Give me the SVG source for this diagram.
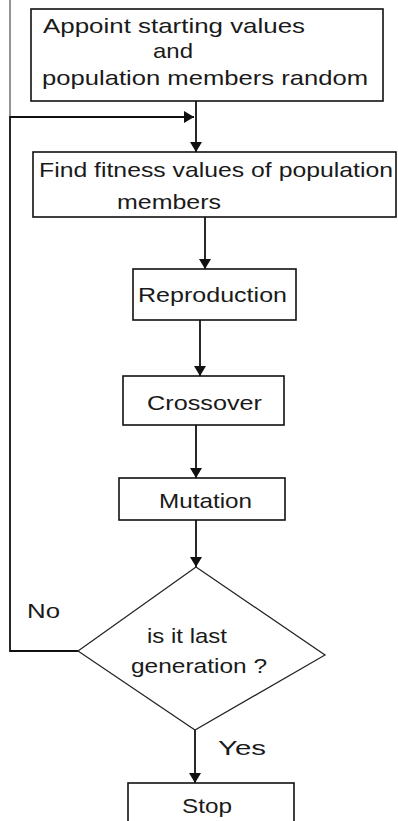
<svg xmlns="http://www.w3.org/2000/svg" width="398" height="821" viewBox="0 0 398 821">
<style>
.box{fill:#fff;stroke:#111;stroke-width:1.6}
.dia{fill:#fff;stroke:#222;stroke-width:1.2}
.t{font-family:"Liberation Sans",Arial,sans-serif;font-size:21px;fill:#1a1a1a}
.c{fill:none;stroke:#111;stroke-width:1.8}
</style>
<defs>
<marker id="ah" viewBox="0 0 10 12" refX="10" refY="6" markerWidth="10" markerHeight="12" markerUnits="userSpaceOnUse" orient="auto">
<path d="M0,0 L10,6 L0,12 Z" fill="#111"/>
</marker>
</defs>
<g id="connectors">
<line x1="10" y1="0" x2="10" y2="117" stroke="#888" stroke-width="1.8"/>
<path class="c" d="M78,651 L10,651 L10,117 L194,117" marker-end="url(#ah)"/>
<line class="c" x1="196" y1="101" x2="196" y2="152" marker-end="url(#ah)"/>
<line class="c" x1="205" y1="217" x2="205" y2="269" marker-end="url(#ah)"/>
<line class="c" x1="200" y1="320" x2="200" y2="376" marker-end="url(#ah)"/>
<line class="c" x1="196" y1="425" x2="196" y2="478" marker-end="url(#ah)"/>
<line class="c" x1="196" y1="520" x2="196" y2="567" marker-end="url(#ah)"/>
<line class="c" x1="195" y1="730" x2="195" y2="783" marker-end="url(#ah)"/>
<text class="t" x="27" y="618" textLength="33" lengthAdjust="spacingAndGlyphs">No</text>
<text class="t" x="218" y="755" textLength="48" lengthAdjust="spacingAndGlyphs">Yes</text>
</g>
<g id="start">
<rect class="box" x="31" y="9" width="352" height="92"/>
<text class="t" x="43" y="33" textLength="262" lengthAdjust="spacingAndGlyphs">Appoint starting  values</text>
<text class="t" x="153" y="58" textLength="40" lengthAdjust="spacingAndGlyphs">and</text>
<text class="t" x="42" y="85" textLength="326" lengthAdjust="spacingAndGlyphs">population  members random</text>
</g>
<g id="fitness">
<rect class="box" x="33" y="152" width="363" height="65"/>
<text class="t" x="39" y="177" textLength="354" lengthAdjust="spacingAndGlyphs">Find fitness values of population</text>
<text class="t" x="117" y="209" textLength="104" lengthAdjust="spacingAndGlyphs">members</text>
</g>
<g id="reproduction">
<rect class="box" x="133" y="269" width="163" height="51"/>
<text class="t" x="138" y="302" textLength="149" lengthAdjust="spacingAndGlyphs">Reproduction</text>
</g>
<g id="crossover">
<rect class="box" x="123" y="376" width="161" height="49"/>
<text class="t" x="147" y="410" textLength="115" lengthAdjust="spacingAndGlyphs">Crossover</text>
</g>
<g id="mutation">
<rect class="box" x="119" y="478" width="166" height="42"/>
<text class="t" x="159" y="508" textLength="93" lengthAdjust="spacingAndGlyphs">Mutation</text>
</g>
<g id="decision">
<polygon class="dia" points="196,567 325,655 195,730 78,651"/>
<text class="t" x="147" y="643" textLength="80" lengthAdjust="spacingAndGlyphs">is it last</text>
<text class="t" x="131" y="673" textLength="136" lengthAdjust="spacingAndGlyphs">generation ?</text>
</g>
<g id="stop">
<rect class="box" x="128" y="783" width="166" height="50"/>
<text class="t" x="182" y="813" textLength="50" lengthAdjust="spacingAndGlyphs">Stop</text>
</g>
</svg>
